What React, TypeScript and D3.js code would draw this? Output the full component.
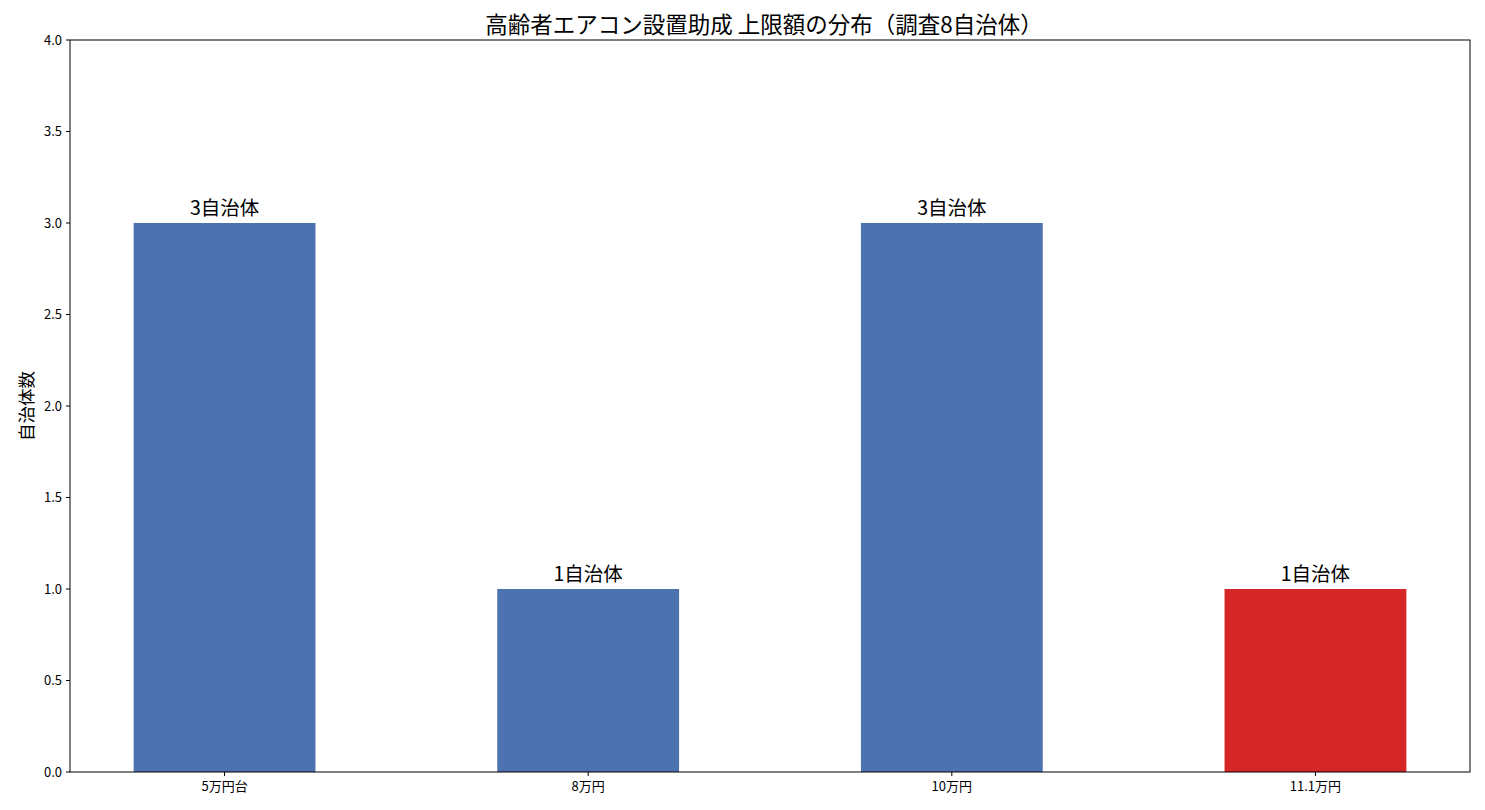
import React from "react";
import * as d3 from "d3";

const categories = ["5万円台", "8万円", "10万円", "11.1万円"];
const counts = [3, 1, 3, 1];
const barLabels = ["3自治体", "1自治体", "3自治体", "1自治体"];
const highlight = [false, false, false, true];
const yTicks = [0, 0.5, 1, 1.5, 2, 2.5, 3, 3.5, 4];

const W = 1485, H = 810;
const M = { left: 70, right: 1470, top: 40, bottom: 772 };
const FONT = "'Noto Sans CJK JP', 'Noto Sans', sans-serif";

export default function App() {
  const x = d3.scaleLinear().domain([-0.425, 3.425]).range([M.left, M.right]);
  const y = d3.scaleLinear().domain([0, 4]).range([M.bottom, M.top]);
  const bw = x(0.5) - x(0);
  return (
    <svg width={W} height={H} style={{ position: "absolute", left: 0, top: 0, background: "#fff" }} fontFamily={FONT}>
      <rect x={0} y={0} width={W} height={H} fill="#fff" />
      {counts.map((v, i) => (
        <rect key={i} x={x(i) - bw / 2} y={y(v)} width={bw} height={y(0) - y(v)}
          fill={highlight[i] ? "#D62728" : "#4C72B0"} />
      ))}
      {counts.map((v, i) => (
        <text key={"l" + i} x={x(i)} y={y(v) - 8} textAnchor="middle" fontSize={19.5} fill="#000">{barLabels[i]}</text>
      ))}
      <rect x={M.left} y={M.top} width={M.right - M.left} height={M.bottom - M.top} fill="none" stroke="#000" strokeWidth={1} />
      {yTicks.map((t) => (
        <g key={t}>
          <line x1={M.left - 4} x2={M.left} y1={y(t)} y2={y(t)} stroke="#000" />
          <text x={M.left - 8} y={y(t)} dy="0.35em" textAnchor="end" fontSize={13} fill="#000">{t.toFixed(1)}</text>
        </g>
      ))}
      {categories.map((c, i) => (
        <g key={c}>
          <line x1={x(i)} x2={x(i)} y1={M.bottom} y2={M.bottom + 4} stroke="#000" />
          <text x={x(i)} y={M.bottom + 19} textAnchor="middle" fontSize={13} fill="#000">{c}</text>
        </g>
      ))}
      <text transform={`translate(33,${(M.top + M.bottom) / 2}) rotate(-90)`} textAnchor="middle" fontSize={17.5} fill="#000">自治体数</text>
      <text x={764} y={33} textAnchor="middle" fontSize={22.5} fill="#000">高齢者エアコン設置助成 上限額の分布（調査8自治体）</text>
    </svg>
  );
}
